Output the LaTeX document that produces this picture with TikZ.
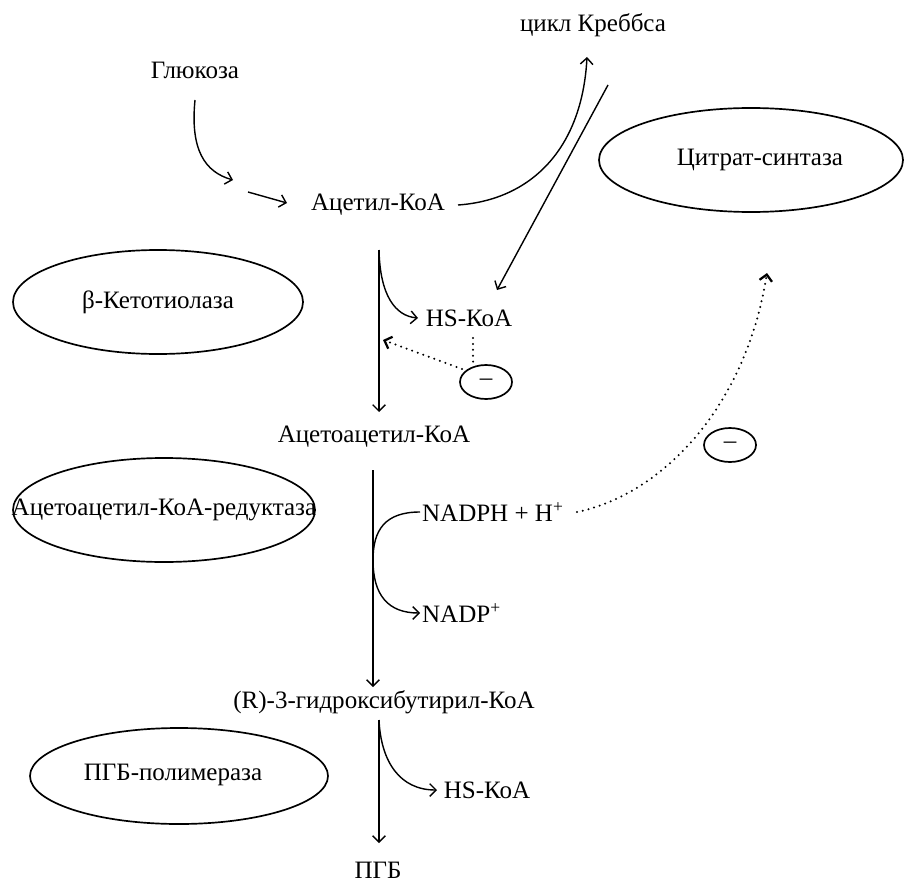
\documentclass[tikz,border=0pt]{standalone}
\usepackage{fontspec}
\setmainfont{Liberation Serif}
\usetikzlibrary{arrows.meta,shapes.geometric}

\begin{document}
\begin{tikzpicture}[x=0.25mm,y=-0.25mm,line width=1pt,
  >={Straight Barb[length=4.5pt,width=9pt]},
  txt/.style={font=\fontsize{17.8}{21}\selectfont,inner sep=1pt},
  enz/.style={ellipse,draw,line width=1.2pt,inner sep=0pt},
  inh/.style={ellipse,draw,fill=white,line width=1.2pt,minimum width=13mm,minimum height=8.5mm,inner sep=0pt,font=\fontsize{17.8}{21}\selectfont},
  dots/.style={line width=1.6pt,line cap=round,dash pattern=on 0pt off 4.2pt}]
\useasboundingbox (0,0) rectangle (906,884);
\node[txt] (glc) at (195,70) {Глюкоза};
\node[txt] (krebs) at (593,25) {цикл Креббса};
\node[txt] (acoa) at (378,205) {Ацетил-КоА};
\node[txt] (hs1) at (469,318) {HS-КоА};
\node[txt] (aacoa) at (374,437) {Ацетоацетил-КоА};
\node[txt,anchor=west] (nadph) at (420,512) {NADPH + H\textsuperscript{+}};
\node[txt,anchor=west] (nadp) at (420,613) {NADP\textsuperscript{+}};
\node[txt] (hb) at (384,702) {(R)-3-гидроксибутирил-КоА};
\node[txt] (hs2) at (487,790) {HS-КоА};
\node[txt] (phb) at (378,870) {ПГБ};

\node[enz,minimum width=72.5mm,minimum height=26mm] (ktE) at (158,302) {};
\node[txt] (ktT) at (ktE) {β-Кетотиолаза};
\node[enz,minimum width=76mm,minimum height=26mm] (csE) at (751,160) {};
\node[txt] (csT) at (760,160) {Цитрат-синтаза};
\node[enz,minimum width=75.5mm,minimum height=26mm] (rdE) at (164,510) {};
\node[txt] (rdT) at (rdE) {Ацетоацетил-КоА-редуктаза};
\node[enz,minimum width=74.5mm,minimum height=24mm] (pmE) at (179,776) {};
\node[txt] (pmT) at (173,775) {ПГБ-полимераза};

\coordinate (g0) at (195,100); \coordinate (g1) at (233,180);
\coordinate (g2) at (248,192); \coordinate (g3) at (287,203);
\draw[->] (g0) .. controls (190,150) and (205,172) .. (g1);
\draw[->] (g2) -- (g3);

\coordinate (k0) at (458,205); \coordinate (k1) at (587,57);
\coordinate (k2) at (608,85); \coordinate (k3) at (497,290);
\draw[->] (k0) .. controls (530,200) and (582,150) .. (k1);
\draw[->] (k2) -- (k3);

\coordinate (t0) at (379,250); \coordinate (t1) at (379,412); \coordinate (t2) at (418,318);
\draw[->] (t0) -- (t1);
\draw[->] (t0) .. controls (380,295) and (395,316) .. (t2);

\coordinate (d0) at (473,338); \coordinate (d1) at (473,367);
\coordinate (d2) at (462,369); \coordinate (d3) at (383,340);
\draw[dots] (d0) -- (d1);
\draw[dots,->] (d2) -- (d3);
\node[inh] (m1) at (486,382) {\raisebox{-2pt}{–}};

\coordinate (r0) at (373,470); \coordinate (r1) at (373,687);
\draw[->] (r0) -- (r1);
\draw[->] (nadph.west) .. controls (385,512) and (373,530) .. (373,560) .. controls (373,595) and (388,613) .. (nadp.west);

\coordinate (c1) at (767,273);
\draw[dots,->] ([xshift=8pt]nadph.east) .. controls (660,495) and (745,410) .. (c1);
\node[inh] (m2) at (730,445) {\raisebox{-2pt}{–}};

\coordinate (p0) at (379,720); \coordinate (p1) at (379,843); \coordinate (p2) at (437,790);
\draw[->] (p0) -- (p1);
\draw[->] (p0) .. controls (381,762) and (400,790) .. (p2);
\end{tikzpicture}
\end{document}
